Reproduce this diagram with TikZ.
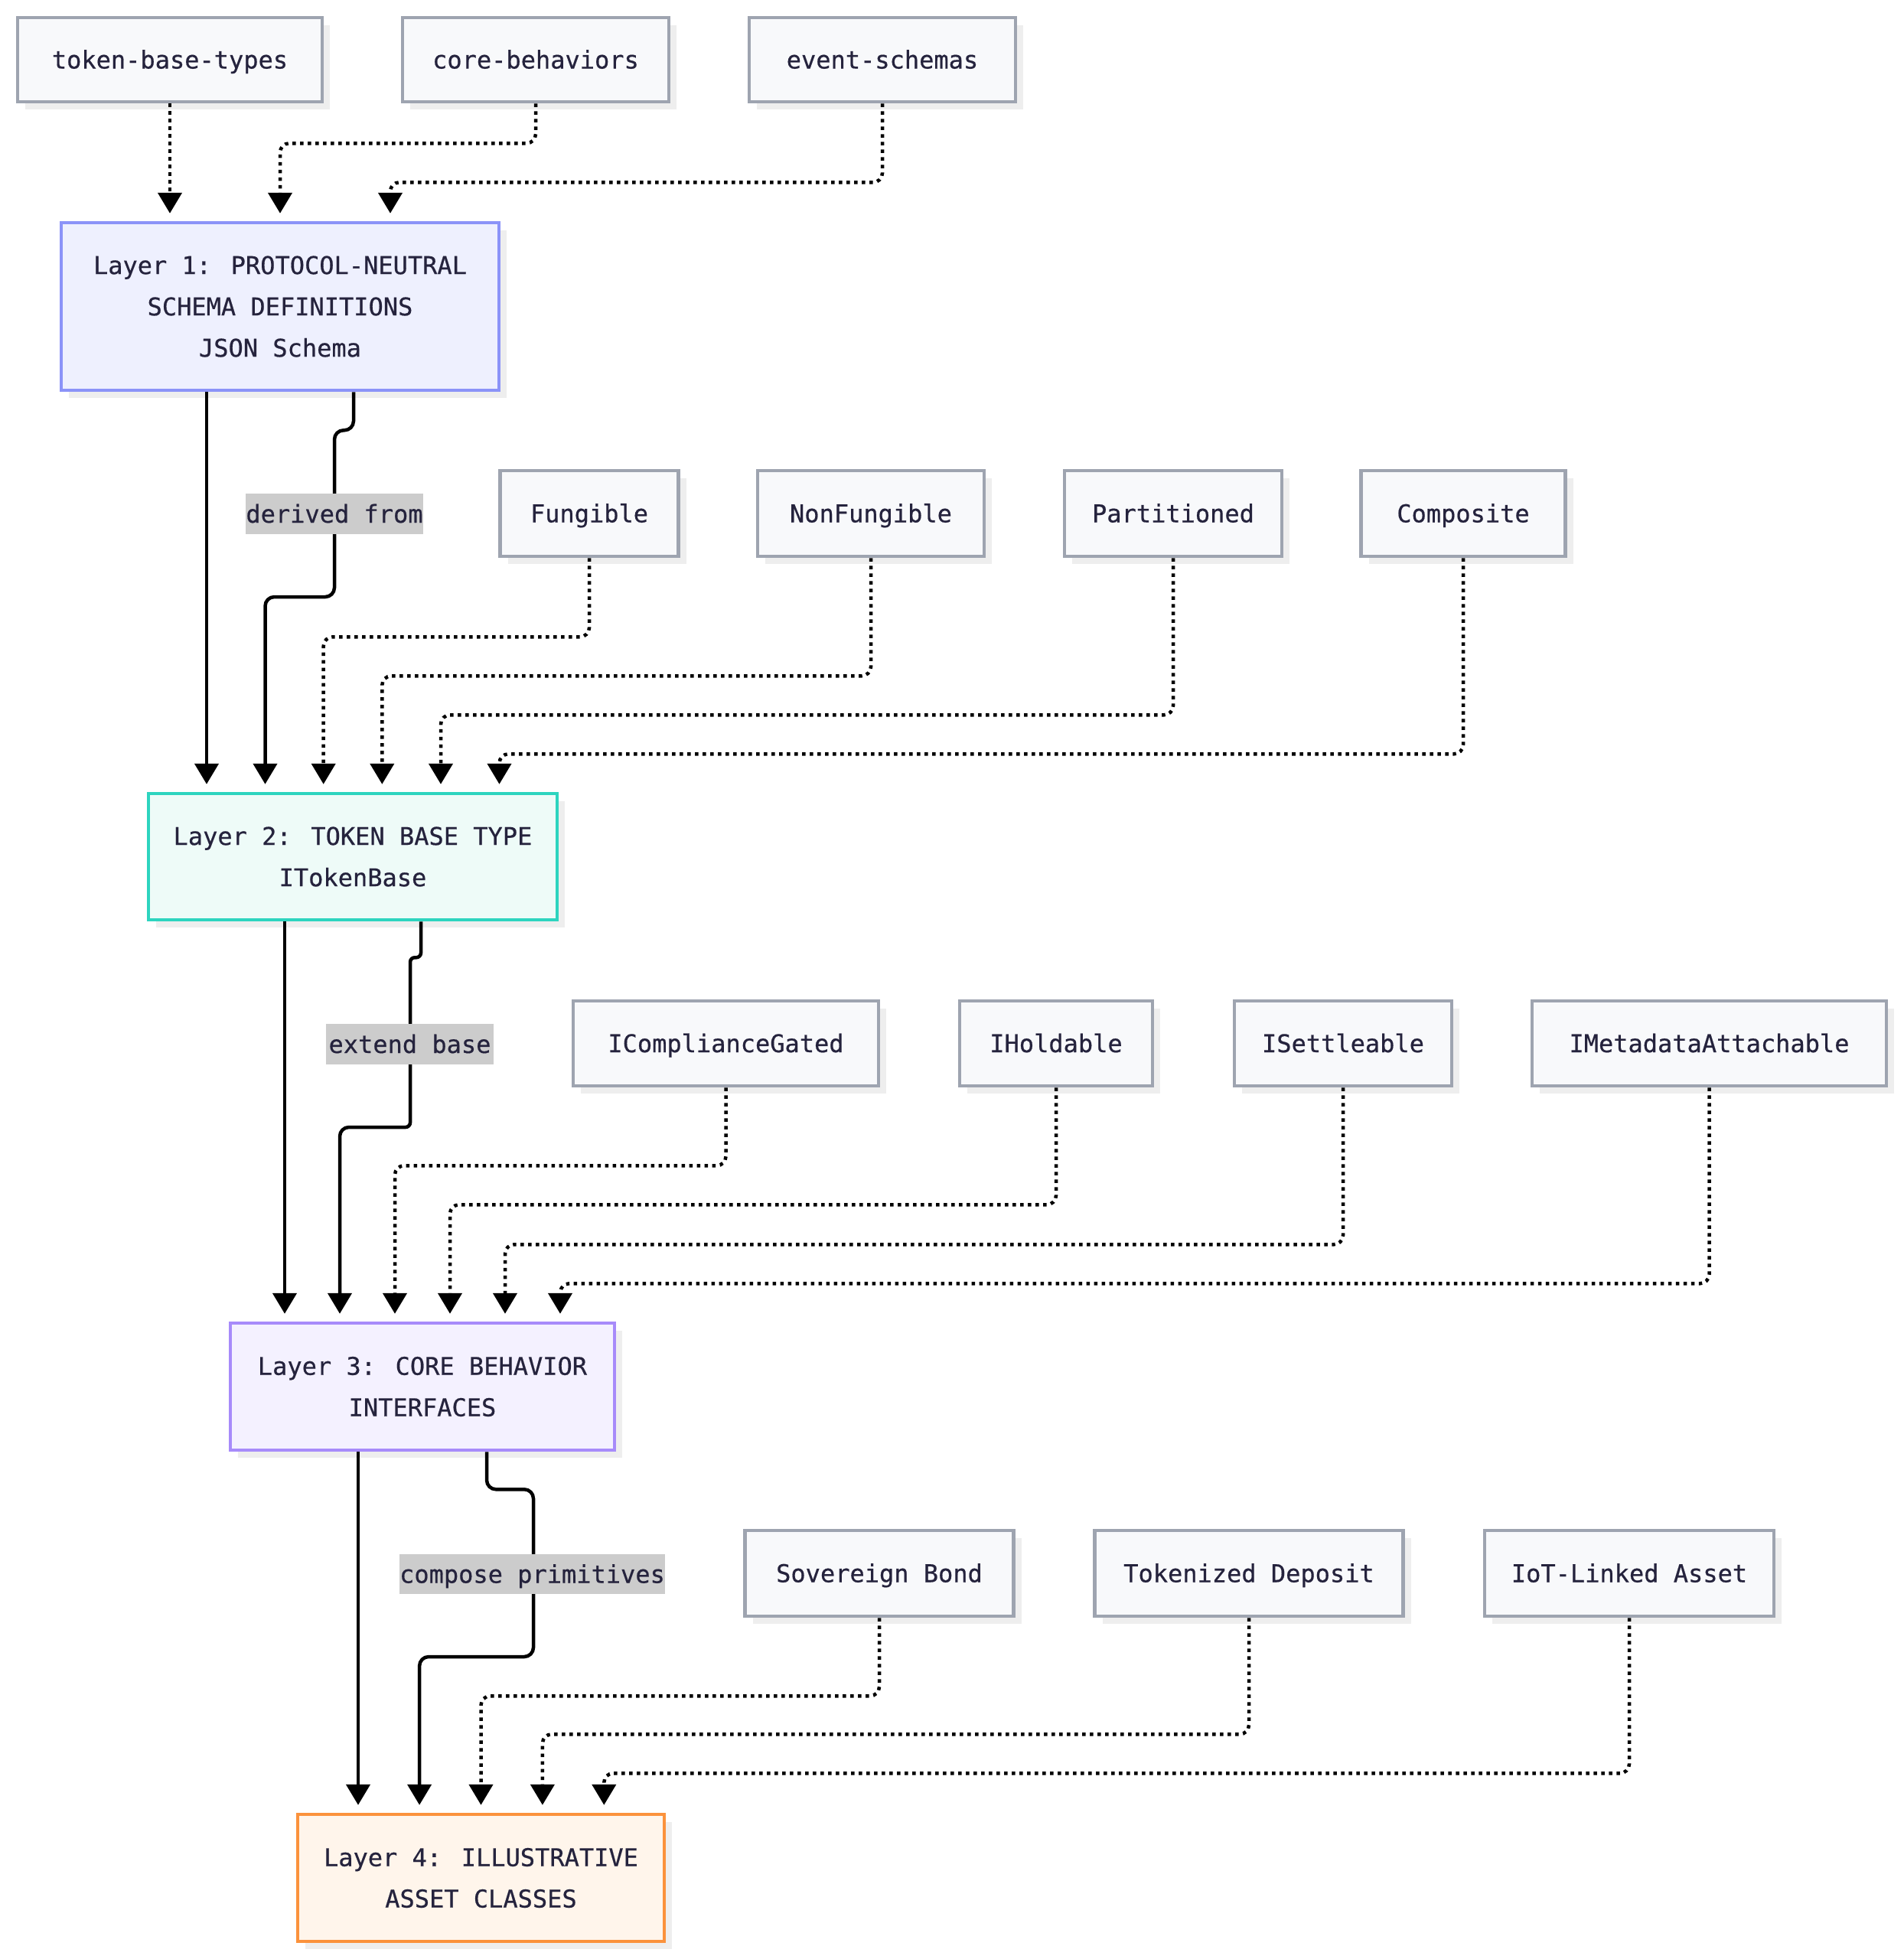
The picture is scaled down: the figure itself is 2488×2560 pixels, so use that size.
\documentclass[tikz,border=0pt]{standalone}
\usepackage{fontspec}
\setmainfont{DejaVu Sans Mono}[FakeBold=0.5]
\usetikzlibrary{arrows.meta,shadows}
\definecolor{txt}{HTML}{25233D}
\definecolor{gfill}{HTML}{F8F9FB}
\definecolor{gline}{HTML}{9EA4B0}
\definecolor{lafill}{HTML}{EEF0FE}
\definecolor{laline}{HTML}{8B93F8}
\definecolor{lbfill}{HTML}{EEFBF8}
\definecolor{lbline}{HTML}{2DD4BF}
\definecolor{lcfill}{HTML}{F4F1FF}
\definecolor{lcline}{HTML}{A78BFA}
\definecolor{ldfill}{HTML}{FFF5EB}
\definecolor{ldline}{HTML}{FB923C}
\definecolor{shad}{HTML}{EEEEEE}
\definecolor{lblfill}{HTML}{CCCCCC}
\begin{document}
\begin{tikzpicture}[x=1pt,y=-1pt,
  every node/.style={text=txt, font=\fontsize{32}{54}\selectfont},
  sz/.style 2 args={minimum width=#1pt, minimum height=#2pt},
  box/.style={draw, line width=4.5pt, inner sep=0pt, drop shadow={shadow xshift=10pt,shadow yshift=-10pt,fill=shad,opacity=1}},
  src/.style={box, draw=gline, fill=gfill, text height=23pt, text depth=0pt},
  layA/.style={box, align=center, draw=laline, fill=lafill},
  layB/.style={box, align=center, draw=lbline, fill=lbfill},
  layC/.style={box, align=center, draw=lcline, fill=lcfill},
  layD/.style={box, align=center, draw=ldline, fill=ldfill},
  lbl/.style={fill=lblfill, inner sep=0pt, text height=23pt, text depth=0pt},
  conn/.style={line width=4.5pt, -{Triangle[width=31pt,length=27pt]}, shorten >=10pt, rounded corners=12pt},
  dconn/.style={conn, dash pattern=on 4.5pt off 5.5pt}
]
\fill[white] (0,0) rectangle (2488,2560);
\useasboundingbox (0,0) rectangle (2488,2560);

% row 1
\node[src, sz={398}{110}] (tbt) at (222,78) {token-base-types};
\node[src, sz={348}{110}] (cb) at (700,78) {core-behaviors};
\node[src, sz={348}{110}] (es) at (1153,78) {event-schemas};
% layer 1
\node[layA, sz={572}{219}] (L1) at (366,400.5) {Layer 1: PROTOCOL-NEUTRAL\\SCHEMA DEFINITIONS\\JSON Schema};
% row 2
\node[src, sz={233}{112}] (fung) at (770,671) {Fungible};
\node[src, sz={296}{112}] (nonf) at (1138,671) {NonFungible};
\node[src, sz={284}{112}] (part) at (1533,671) {Partitioned};
\node[src, sz={267}{112}] (comp) at (1912,671) {Composite};
% layer 2
\node[layB, sz={534}{165}] (L2) at (461,1119.5) {Layer 2: TOKEN BASE TYPE\\ITokenBase};
% row 3
\node[src, sz={399}{111}] (icg) at (948.5,1363.5) {IComplianceGated};
\node[src, sz={252}{111}] (ihold) at (1380,1363.5) {IHoldable};
\node[src, sz={284}{111}] (iset) at (1755,1363.5) {ISettleable};
\node[src, sz={463}{111}] (imeta) at (2233.5,1363.5) {IMetadataAttachable};
% layer 3
\node[layC, sz={502}{166}] (L3) at (552,1812) {Layer 3: CORE BEHAVIOR\\INTERFACES};
% row 4
\node[src, sz={351}{112}] (sov) at (1149,2056) {Sovereign Bond};
\node[src, sz={403}{112}] (tok) at (1632,2056) {Tokenized Deposit};
\node[src, sz={378}{112}] (iot) at (2129,2056) {IoT-Linked Asset};
% layer 4
\node[layD, sz={479}{166}] (L4) at (628.5,2454) {Layer 4: ILLUSTRATIVE\\ASSET CLASSES};

% coordinates for exits
\coordinate (o1a) at ([xshift=-96pt]L1.south);
\coordinate (o1b) at ([xshift=96pt]L1.south);
\coordinate (o2a) at ([xshift=-89pt]L2.south);
\coordinate (o2b) at ([xshift=89pt]L2.south);
\coordinate (o3a) at ([xshift=-84pt]L3.south);
\coordinate (o3b) at ([xshift=84pt]L3.south);

% into layer 1
\draw[dconn] (tbt.south) -- (tbt.south |- L1.north);
\draw[dconn] (cb.south) -- ++(0,52) -| (L1.north);
\draw[dconn] (es.south) -- ++(0,103) -| ([xshift=144pt]L1.north);

% layer 1 -> layer 2
\draw[conn] (o1a) -- (o1a |- L2.north);
\draw[conn] (o1b) -- ++(0,50) -| (437,780) -| ([xshift=-114.5pt]L2.north);
\draw[dconn] (fung.south) -- ++(0,103) -| ([xshift=-38.3pt]L2.north);
\draw[dconn] (nonf.south) -- ++(0,154) -| ([xshift=38.3pt]L2.north);
\draw[dconn] (part.south) -- ++(0,205) -| ([xshift=115pt]L2.north);
\draw[dconn] (comp.south) -- ++(0,256) -| ([xshift=191.5pt]L2.north);

% layer 2 -> layer 3
\draw[conn] (o2a) -- (o2a |- L3.north);
\draw[conn, rounded corners=6pt] (o2b) -- ++(0,47) -| (536,1473) [rounded corners=12pt] -| ([xshift=-108pt]L3.north);
\draw[dconn] (icg.south) -- ++(0,102) -| ([xshift=-36pt]L3.north);
\draw[dconn] (ihold.south) -- ++(0,153) -| ([xshift=36pt]L3.north);
\draw[dconn] (iset.south) -- ++(0,205) -| ([xshift=108pt]L3.north);
\draw[dconn] (imeta.south) -- ++(0,256) -| ([xshift=180pt]L3.north);

% layer 3 -> layer 4
\draw[conn] (o3a) -- (o3a |- L4.north);
\draw[conn] (o3b) -- ++(0,49) -| (697,2165) -| ([xshift=-80.4pt]L4.north);
\draw[dconn] (sov.south) -- ++(0,102) -| (L4.north);
\draw[dconn] (tok.south) -- ++(0,152) -| ([xshift=80.4pt]L4.north);
\draw[dconn] (iot.south) -- ++(0,203) -| ([xshift=160.8pt]L4.north);

% edge labels
\node[lbl, sz={228}{53}] (lab1) at (437,671.5) {derived from};
\node[lbl, sz={219}{53}] (lab2) at (535.5,1364.5) {extend base};
\node[lbl, sz={347}{52}] (lab3) at (695.5,2057) {compose primitives};
\end{tikzpicture}
\end{document}
